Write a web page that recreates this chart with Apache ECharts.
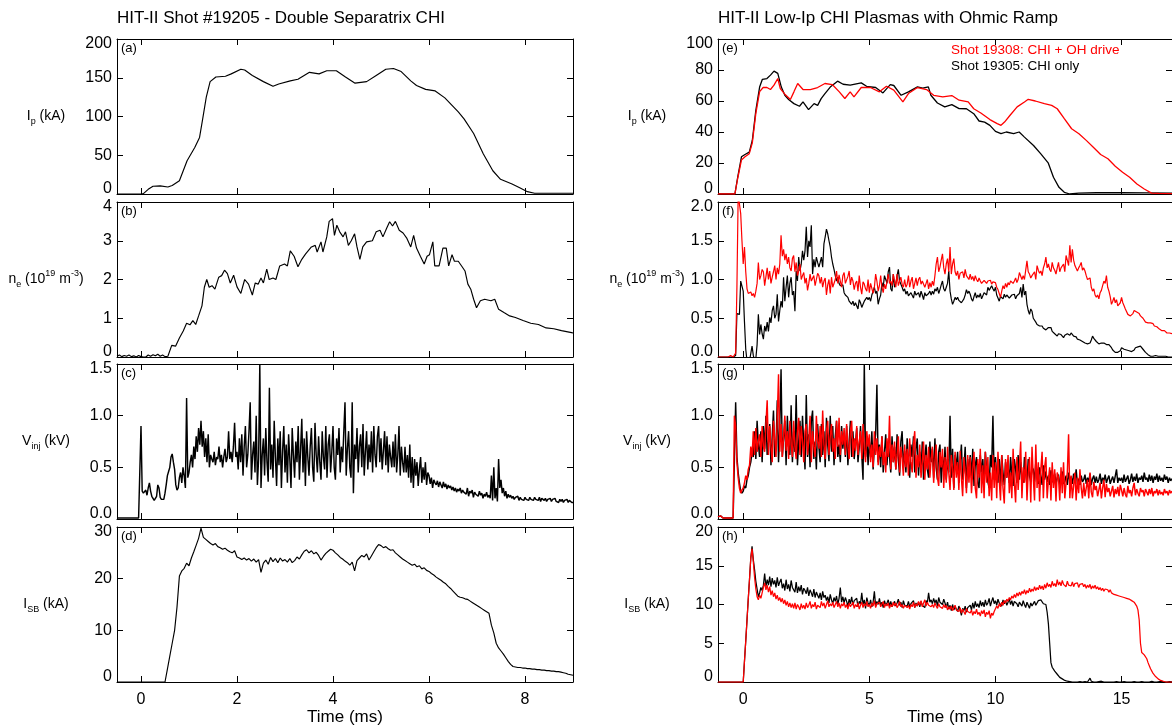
<!DOCTYPE html>
<html><head><meta charset="utf-8">
<script src="https://cdn.jsdelivr.net/npm/echarts@6/dist/echarts.min.js"></script>
<style>html,body{margin:0;padding:0;background:#fff}#c{width:1172px;height:728px}</style>
</head><body><div id="c"></div>
<script>
// ---------------- DATA ----------------
// Left column: shot 19205, time in ms
const ipLeft = [[-0.5,0],[0,0],[0.05,0.5],[0.15,6],[0.25,10],[0.4,10.5],[0.56,9],[0.65,11],[0.8,17],[0.96,43],[1.12,60],[1.22,73],[1.28,95],[1.36,125],[1.44,145],[1.56,151],[1.76,152],[1.88,155],[2.08,161],[2.16,160],[2.32,153],[2.55,145],[2.75,139],[2.87,142],[3.11,146],[3.27,148],[3.51,157],[3.71,155],[3.87,159],[4.07,159],[4.26,151],[4.46,143],[4.7,145],[4.9,153],[5.1,161],[5.26,162],[5.42,158],[5.62,146],[5.74,140],[5.93,135],[6.13,133],[6.33,124],[6.61,106],[6.73,97],[6.93,78],[7.13,52],[7.33,30],[7.49,19],[7.73,13],[7.89,8],[8.05,3],[8.2,1],[8.6,1],[9,1]];
const neLeft = [[-0.5,0.02],[-0.45,0.05],[-0.4,0.01],[-0.35,0.04],[-0.3,0.02],[-0.25,0.05],[-0.2,0.01],[-0.15,0.03],[-0.1,0.0],[-0.05,0.04],[0,0.01],[0.05,0.0],[0.1,0.0],[0.15,0.05],[0.2,0.02],[0.25,0.06],[0.3,0.03],[0.35,0.07],[0.4,0.02],[0.45,0.05],[0.5,0.01],[0.56,0.02],[0.64,0.3],[0.72,0.28],[0.8,0.49],[0.88,0.67],[0.95,0.87],[1.02,0.83],[1.08,0.94],[1.14,0.84],[1.2,1.06],[1.27,1.32],[1.32,1.8],[1.37,2.0],[1.42,1.8],[1.48,1.84],[1.54,1.75],[1.62,2.06],[1.68,2.1],[1.74,2.24],[1.8,2.15],[1.86,1.91],[1.93,2.11],[2.0,1.81],[2.08,1.64],[2.16,2.0],[2.24,1.88],[2.32,1.6],[2.38,1.91],[2.44,1.88],[2.5,2.04],[2.55,1.91],[2.62,2.27],[2.67,2.0],[2.75,2.04],[2.81,2.0],[2.89,2.35],[2.99,2.4],[3.05,2.35],[3.11,2.74],[3.19,2.6],[3.27,2.33],[3.35,2.52],[3.43,2.66],[3.55,2.84],[3.63,2.88],[3.67,2.71],[3.75,2.97],[3.79,2.71],[3.87,3.1],[3.92,3.5],[3.99,3.57],[4.03,3.14],[4.08,3.4],[4.14,3.23],[4.21,3.1],[4.26,3.23],[4.32,2.88],[4.38,3.0],[4.45,3.18],[4.5,2.84],[4.56,2.52],[4.62,2.84],[4.7,2.97],[4.82,3.0],[4.9,3.23],[4.98,3.27],[5.04,3.1],[5.12,3.33],[5.18,3.49],[5.24,3.38],[5.3,3.5],[5.38,3.27],[5.46,3.2],[5.54,3.06],[5.62,2.84],[5.68,3.14],[5.74,2.81],[5.82,2.6],[5.9,2.4],[5.96,2.6],[6.01,2.64],[6.08,2.97],[6.12,2.35],[6.21,2.35],[6.29,2.81],[6.36,2.81],[6.41,2.35],[6.48,2.64],[6.53,2.47],[6.61,2.47],[6.69,2.33],[6.75,2.22],[6.81,1.88],[6.87,1.75],[6.93,1.49],[6.99,1.27],[7.07,1.45],[7.16,1.49],[7.29,1.45],[7.37,1.49],[7.45,1.23],[7.57,1.14],[7.68,1.06],[7.8,1.02],[7.96,0.94],[8.12,0.87],[8.28,0.84],[8.44,0.75],[8.6,0.73],[8.76,0.68],[8.97,0.63],[9.0,0.62]];
// V_inj, sampled every 0.025 ms from -0.5 ms
const vinjLeftT0 = -0.5, vinjLeftDt = 0.025;
const vinjLeft = [0.01,0.01,0.01,0.01,0.01,0.01,0.01,0.01,0.01,0.01,
0.01,0.01,0.01,0.01,0.01,0.01,0.01,0.01,0.01,0.01,
0.9,0.27,0.25,0.24,0.28,0.23,0.3,0.35,0.27,0.22,
0.2,0.18,0.2,0.22,0.33,0.3,0.21,0.19,0.2,0.19,
0.25,0.33,0.42,0.46,0.5,0.6,0.63,0.55,0.48,0.33,
0.28,0.3,0.4,0.45,0.35,0.5,0.42,0.3,1.17,0.4,
0.45,0.55,0.62,0.5,0.7,0.58,0.8,0.65,0.88,0.72,
0.95,0.7,0.85,0.6,0.78,0.55,0.82,0.5,0.62,0.58,
0.55,0.65,0.52,0.6,0.58,0.7,0.55,0.62,0.5,0.6,
0.68,0.55,0.6,0.85,0.58,0.65,0.55,0.7,0.93,0.6,
0.65,0.48,0.78,0.55,0.82,0.42,0.7,0.9,0.5,0.62,
0.85,1.13,0.38,0.62,0.75,0.45,1.0,0.33,0.58,1.5,
0.3,0.62,0.78,0.42,0.88,0.55,0.36,1.27,0.48,0.72,
0.4,0.95,0.6,0.32,0.78,0.52,0.85,0.3,0.66,0.9,
0.45,0.72,0.35,0.82,0.58,0.3,0.88,0.62,0.4,0.75,
0.55,0.9,0.38,0.68,0.97,0.45,0.78,0.32,0.85,0.6,
0.42,0.7,0.88,0.5,0.36,0.93,0.62,0.45,0.8,0.55,
0.38,0.85,0.6,0.48,0.9,0.4,0.72,0.82,0.45,0.65,
0.9,0.5,0.38,0.78,0.62,0.88,0.45,0.7,0.55,0.85,
1.13,0.42,0.68,0.85,0.5,0.4,1.13,0.25,0.72,0.58,
0.88,0.45,0.7,0.82,0.5,0.92,0.42,0.65,0.85,0.48,
0.72,0.55,0.85,0.45,0.9,0.62,0.5,0.8,0.9,0.55,
0.78,0.48,0.66,0.85,0.52,0.8,0.45,0.72,0.6,0.5,
0.75,0.5,0.82,0.45,0.62,0.9,0.42,0.7,0.55,0.45,
0.7,0.45,0.62,0.4,0.72,0.35,0.6,0.3,0.58,0.42,
0.55,0.32,0.48,0.6,0.35,0.5,0.38,0.55,0.33,0.45,
0.42,0.34,0.4,0.3,0.38,0.35,0.33,0.37,0.31,0.36,
0.33,0.3,0.36,0.31,0.34,0.29,0.33,0.3,0.32,0.28,
0.31,0.27,0.3,0.26,0.29,0.27,0.3,0.25,0.28,0.26,
0.27,0.24,0.3,0.22,0.27,0.25,0.28,0.21,0.26,0.24,
0.25,0.22,0.27,0.23,0.25,0.2,0.24,0.22,0.26,0.21,
0.23,0.2,0.42,0.18,0.5,0.2,0.3,0.17,0.58,0.3,
0.38,0.25,0.3,0.22,0.27,0.2,0.24,0.21,0.23,0.2,
0.22,0.19,0.21,0.2,0.22,0.18,0.21,0.19,0.2,0.18,
0.21,0.19,0.2,0.18,0.21,0.19,0.2,0.18,0.21,0.19,
0.2,0.18,0.21,0.17,0.2,0.19,0.18,0.2,0.17,0.19,
0.18,0.2,0.17,0.19,0.18,0.2,0.17,0.18,0.16,0.19,
0.17,0.19,0.16,0.18,0.17,0.19,0.16,0.18,0.17,0.16,
0.16];
// I_SB, sampled every 0.05 ms from -0.5 ms
const isbLeftT0 = -0.5, isbLeftDt = 0.05;
const isbLeft = [0,0,0,0,0,0,0,0,0,0,
0,0,0,0,0,0,0,0,0,0,
0,2.5,5,7.5,10,14.5,20.5,21.5,22,23,
22.5,24,25.2,26.5,27.8,29.8,28,27.6,27.2,26.8,
26.5,26.8,26.2,26,25.7,25.9,25.5,25.2,25,25.4,
24.2,24,23.7,24,23.6,23.9,23.4,23.8,23.2,23.7,
21.2,23,23.6,22.8,24.1,23.3,23.9,23.1,24,23.4,
23.7,23.2,23.9,23.1,23.5,24.2,23.8,24.6,25.3,25.6,
25,25.4,24.8,25.1,24.5,23.6,24.3,24.9,25.3,25.7,
25.5,25,24.6,24.1,23.8,23.4,23.1,22.6,23.2,21.5,
23.5,24,24.5,24.2,24.8,23.6,24.4,25.2,26,26.6,
26.4,26,26.2,25.8,25.5,25.6,25,24.6,24.2,23.8,
23.5,23.2,22.9,22.6,22.8,22.3,22.5,21.9,22.1,21.6,
21.4,21,20.7,20.3,20,19.7,19.3,19,18.5,18.1,
17.6,17.1,16.6,16.4,16.3,16.1,16,15.7,15.4,15.1,
14.8,14.5,14.2,13.9,13.6,13.3,11,9.5,7.5,6.6,
6,5.4,4.7,4,3.4,3,2.9,2.8,2.8,2.7,
2.7,2.6,2.6,2.5,2.5,2.4,2.4,2.3,2.3,2.2,
2.2,2.1,2.1,2.0,2.0,1.9,1.8,1.7,1.5,1.4,
1.3];

// Right column: shot 19305 (black, CHI only) and 19308 (red, CHI + OH)
const ipBlack = [[-1,0],[-0.33,0],[-0.22,10.8],[-0.07,24],[0.07,25.5],[0.24,27],[0.36,34.5],[0.5,54],[0.65,69],[0.76,74],[0.94,74.5],[1.08,76.7],[1.22,79.3],[1.37,77.8],[1.51,69],[1.65,63.7],[1.8,61],[2.01,58.3],[2.23,56.6],[2.37,59.4],[2.59,54.4],[2.81,58.3],[2.95,57.2],[3.09,61.5],[3.24,64.8],[3.45,69],[3.74,72.8],[3.96,70.8],[4.24,70.2],[4.68,71.7],[4.89,69.5],[5.25,68.7],[5.54,65.2],[5.83,70.6],[5.97,70],[6.26,63.7],[6.55,65.9],[6.91,69.1],[7.12,68.3],[7.34,69.1],[7.44,63.7],[7.7,58.7],[7.99,56.2],[8.27,57.7],[8.56,55.1],[8.85,55],[9.14,51.8],[9.35,47.1],[9.57,46.4],[9.78,44.3],[10.0,40.4],[10.22,38.9],[10.43,40],[10.72,38.9],[10.94,40],[11.15,36.7],[11.51,31.3],[11.8,25.9],[12.09,20.1],[12.3,10.8],[12.52,4.3],[12.73,1.1],[12.95,0],[13.3,0.6],[14,0.8],[15,0.8],[16,0.7],[17,0.5]];
const ipRed = [[-1,0],[-0.33,0],[-0.22,10],[-0.07,22],[0.07,24],[0.24,26],[0.36,33],[0.5,52],[0.65,66],[0.79,68.7],[0.94,68.7],[1.08,67.4],[1.22,70.2],[1.37,74.5],[1.47,68],[1.65,64.4],[1.87,61],[2.01,65.9],[2.16,71.3],[2.37,67.4],[2.66,67.4],[2.95,68.7],[3.24,71.3],[3.53,70.6],[3.81,65.9],[4.03,61.6],[4.24,65.9],[4.39,62.6],[4.68,68.7],[5.04,68.7],[5.4,65.9],[5.68,69.5],[5.97,67],[6.33,59.4],[6.55,64.8],[6.91,68.7],[7.27,67.4],[7.55,63.7],[7.91,62.6],[8.27,63.5],[8.56,60.5],[8.92,59.4],[9.14,55],[9.42,52.3],[9.78,48],[10.07,45.4],[10.22,44.3],[10.36,46.4],[10.58,50.8],[10.86,56.2],[11.15,59.4],[11.3,61.1],[11.58,60],[11.94,58.3],[12.23,57.2],[12.45,55],[12.73,48.6],[13.02,42.1],[13.31,38.9],[13.6,34.6],[13.88,30.2],[14.17,25.5],[14.46,22.7],[14.75,17.9],[15.04,14],[15.32,10.8],[15.61,6.5],[15.9,3.2],[16.19,0.6],[16.47,0.4],[17,0.3]];
// Right column sampled traces: every 0.05 ms from -1 ms
const rightT0 = -1, rightDt = 0.05;
const neRed = [0,0,0,0,0,0,0,0,0,0,
0.02,0.01,0,0,0.05,0.9,2.1,2.1,1.85,1.5,
1.2,1.42,1.1,0.88,0.82,0.8,0.84,0.79,0.82,0.77,
0.85,0.95,1.22,1.0,1.05,1.13,1.1,0.92,0.9,1.15,
1.0,1.11,0.95,1.03,1.1,1.18,1.0,1.15,1.07,1.2,
1.57,1.3,1.39,1.25,1.33,1.2,1.29,1.15,1.11,1.27,
1.31,1.1,1.22,1.05,1.11,1.2,1.0,1.05,1.09,0.95,
1.02,0.86,0.95,1.07,0.98,1.0,1.05,0.92,1.0,1.08,
1.05,0.95,1.03,0.9,0.98,1.02,0.8,0.93,1.0,0.82,
1.03,0.9,0.92,1.0,1.11,0.95,1.06,0.98,0.9,1.05,
1.09,0.95,0.96,1.04,1.11,0.93,1.03,0.98,0.87,0.95,
0.98,0.85,1.05,0.9,0.81,0.97,0.94,0.88,0.85,1.0,
0.83,0.95,0.94,0.82,0.9,1.07,0.98,0.85,0.92,1.05,
0.9,0.83,0.94,0.88,0.9,1.07,0.95,0.98,0.92,1.07,
0.98,0.9,1.07,0.92,0.98,1.03,0.94,0.9,1.0,0.9,
0.94,1.05,0.9,0.98,1.03,0.88,0.95,1.02,0.92,1.0,
1.03,0.94,0.98,1.0,0.9,0.95,1.0,0.88,0.96,0.9,
0.98,0.92,1.05,1.2,1.29,1.1,1.16,1.25,1.33,1.15,
1.07,1.2,1.27,1.1,1.42,1.07,1.2,1.27,1.1,1.05,
1.11,1.0,1.08,1.07,1.1,1.02,1.13,1.05,1.07,1.0,
1.07,1.0,1.04,0.98,1.05,1.0,0.97,1.02,0.98,0.95,
0.96,0.99,0.97,0.95,0.98,0.96,0.99,0.94,0.97,0.96,
0.96,0.9,0.87,0.82,0.77,0.85,0.92,0.88,0.95,0.9,
0.96,0.93,0.98,1.0,0.95,0.98,1.02,0.96,1.0,1.09,
1.09,1.0,1.05,1.0,1.12,1.24,1.1,1.07,1.02,1.05,
1.03,1.1,1.0,1.18,1.12,1.08,1.11,1.05,1.15,1.2,
1.29,1.15,1.2,1.13,1.1,1.22,1.15,1.12,1.07,1.15,
1.22,1.1,1.15,1.13,1.2,1.1,1.31,1.25,1.18,1.44,
1.22,1.39,1.25,1.18,1.2,1.11,1.15,1.18,1.22,1.12,
1.15,1.11,1.05,1.0,0.98,1.02,0.9,0.85,0.88,0.8,
0.77,0.8,0.75,0.83,0.86,0.92,0.98,0.95,1.05,0.9,
0.85,0.78,0.68,0.72,0.77,0.7,0.74,0.66,0.64,0.7,
0.77,0.7,0.66,0.62,0.6,0.55,0.57,0.53,0.54,0.56,
0.6,0.61,0.58,0.59,0.56,0.53,0.55,0.5,0.48,0.45,
0.46,0.44,0.43,0.44,0.42,0.43,0.4,0.38,0.39,0.37,
0.36,0.35,0.34,0.33,0.34,0.32,0.31,0.32,0.31,0.3,
0.3];
const neBlack = [0,0,0,0,0,0,0,0,0,0,
0,0,0,0,0.02,0.56,0.55,0.55,0.98,0.98,
0.85,0.45,0.1,-0.05,-0.05,-0.05,-0.05,0.14,0.02,-0.05,
-0.02,0.16,0.55,0.29,0.42,0.3,0.23,0.4,0.33,0.45,
0.33,0.51,0.44,0.6,0.66,0.5,0.55,0.81,0.46,0.6,
0.72,0.64,1.03,0.72,0.9,1.05,0.77,0.95,1.03,0.8,
0.85,0.59,1.11,0.98,1.29,1.11,1.2,1.37,1.25,1.37,
1.68,1.29,1.5,1.42,1.7,1.07,1.26,1.16,1.29,1.22,
1.16,1.22,1.29,1.16,1.46,1.55,1.65,1.59,1.5,1.42,
1.29,1.2,1.13,1.05,0.98,1.03,0.95,0.92,0.9,0.93,
0.83,0.8,0.78,0.77,0.72,0.7,0.68,0.72,0.66,0.7,
0.68,0.62,0.74,0.7,0.64,0.68,0.72,0.7,0.77,0.74,
0.77,0.72,0.8,0.85,0.9,0.82,0.85,0.68,0.75,0.8,
0.96,0.9,1.05,1.07,0.95,1.1,1.16,0.88,0.85,1.07,
0.9,0.95,1.05,1.13,0.98,1.0,0.9,0.85,0.88,0.81,
0.85,0.79,0.77,0.83,0.81,0.76,0.85,0.8,0.79,0.83,
0.77,0.85,0.8,0.74,0.83,0.79,0.77,0.82,0.85,0.8,
0.85,0.81,0.88,0.85,0.9,0.82,0.87,0.93,0.98,0.88,
0.85,0.9,0.95,1.11,0.85,0.75,0.68,0.72,0.77,0.74,
0.77,0.73,0.74,0.7,0.68,0.75,0.8,0.87,0.82,0.85,
0.81,0.75,0.72,0.78,0.83,0.76,0.8,0.77,0.82,0.75,
0.77,0.83,0.85,0.8,0.9,0.86,0.85,0.92,0.88,0.85,
0.9,0.8,0.76,0.72,0.78,0.79,0.75,0.81,0.77,0.8,
0.81,0.76,0.74,0.8,0.78,0.81,0.75,0.79,0.77,0.82,
0.9,0.77,0.94,0.8,0.85,0.68,0.6,0.55,0.62,0.59,
0.5,0.48,0.45,0.42,0.44,0.4,0.38,0.4,0.37,0.36,
0.35,0.37,0.38,0.36,0.38,0.33,0.35,0.3,0.29,0.27,
0.3,0.31,0.29,0.27,0.25,0.28,0.29,0.3,0.31,0.28,
0.31,0.29,0.27,0.25,0.26,0.23,0.24,0.22,0.21,0.2,
0.19,0.18,0.19,0.17,0.16,0.18,0.22,0.27,0.24,0.22,
0.2,0.18,0.17,0.16,0.18,0.17,0.18,0.17,0.16,0.15,
0.16,0.15,0.12,0.09,0.07,0.06,0.05,0.06,0.05,0.08,
0.12,0.11,0.1,0.1,0.09,0.08,0.08,0.07,0.07,0.07,
0.09,0.12,0.12,0.13,0.14,0.14,0.12,0.1,0.08,0.06,
0.04,0.03,0.02,0.01,0.01,0.01,0.01,0.02,0.01,0.01,
0.01,0.01,0.0,0.01,0.0,0.01,0.0,0.0,0.01,0.0,
0];
const vinjBlack = [0.02,0.03,0.03,0.02,0.01,0.01,0.01,0.01,0.01,0.01,
0.01,0.01,0.01,0.01,1.13,0.6,0.45,0.35,0.27,0.25,
0.27,0.32,0.3,0.38,0.42,0.5,0.55,0.65,0.6,0.85,
0.58,0.95,0.72,0.6,0.85,0.55,0.9,0.68,1.0,0.62,
0.75,0.92,0.52,0.8,1.05,0.6,0.7,1.15,0.55,0.9,
1.45,0.6,0.78,0.95,0.52,1.0,0.7,0.62,1.1,0.55,
0.85,0.65,1.2,0.52,0.75,0.95,0.6,1.0,0.72,0.48,
1.2,0.6,0.82,0.5,0.95,1.05,0.58,0.75,0.48,0.92,
0.7,0.55,0.92,0.62,0.85,0.5,0.98,0.72,0.56,1.0,
0.65,0.9,0.52,0.8,0.95,0.6,0.72,0.55,0.9,0.68,
0.82,0.6,0.9,0.52,0.75,0.95,0.6,0.85,0.58,0.72,
0.88,0.55,0.7,0.9,0.62,0.38,1.5,0.6,0.8,0.52,
0.75,0.6,0.85,0.48,0.7,0.82,1.3,0.55,0.72,0.5,
0.8,0.45,0.65,0.82,0.52,0.75,0.6,0.45,0.8,0.55,
0.7,0.48,0.82,0.58,0.42,0.75,0.85,0.5,0.66,0.45,
0.78,0.55,0.4,0.72,0.6,0.8,0.45,0.68,0.78,0.42,
0.65,0.45,0.75,0.38,0.6,0.72,0.48,0.4,0.75,0.55,
0.68,0.4,0.78,0.5,0.38,0.65,0.72,0.35,0.6,0.45,
0.7,0.38,0.58,0.45,1.0,0.4,0.68,0.3,0.62,0.5,
0.65,0.35,0.55,0.72,0.38,0.48,0.7,0.3,0.58,0.45,
0.62,0.4,0.68,0.32,0.52,0.6,0.35,0.3,0.62,0.45,
0.58,0.32,0.65,0.48,0.36,0.3,0.62,0.5,1.0,0.38,
0.6,0.42,0.35,0.58,0.32,0.62,0.45,0.33,0.55,0.4,
0.52,0.35,0.6,0.42,0.32,0.58,0.48,0.35,0.62,0.38,
0.55,0.4,0.35,0.6,0.45,0.33,0.58,0.42,0.36,0.5,
0.48,0.36,0.55,0.4,0.34,0.5,0.42,0.33,0.52,0.38,
0.46,0.36,0.42,0.33,0.47,0.38,0.35,0.44,0.34,0.4,
0.43,0.33,0.38,0.46,0.34,0.36,0.42,0.33,0.45,0.37,
0.41,0.34,0.44,0.36,0.48,0.34,0.39,0.33,0.42,0.36,
0.38,0.43,0.34,0.4,0.36,0.44,0.33,0.39,0.42,0.35,
0.41,0.35,0.38,0.44,0.34,0.4,0.37,0.43,0.35,0.39,
0.42,0.34,0.38,0.41,0.35,0.36,0.48,0.35,0.4,0.37,
0.4,0.35,0.43,0.36,0.39,0.42,0.34,0.38,0.44,0.36,
0.41,0.37,0.44,0.35,0.4,0.38,0.42,0.36,0.45,0.38,
0.4,0.36,0.43,0.37,0.42,0.35,0.41,0.38,0.44,0.36,
0.42,0.37,0.4,0.36,0.43,0.38,0.41,0.35,0.4,0.37,
0.39];
const vinjRed = [0.02,0.03,0.03,0.02,0.01,0.01,0.01,0.01,0.01,0.01,
0.01,0.01,0.01,1.0,0.9,0.55,0.4,0.3,0.25,0.28,
0.3,0.35,0.42,0.38,0.48,0.52,0.7,0.6,0.85,0.62,
0.88,0.65,0.75,0.82,0.6,0.9,0.7,0.65,0.92,1.15,
0.62,0.9,0.7,0.55,0.95,0.78,0.6,0.98,1.4,0.65,
0.92,0.6,0.8,1.0,0.66,0.85,0.58,0.95,0.72,0.6,
0.95,0.7,0.58,0.85,0.98,0.62,0.9,0.75,0.55,0.85,
0.92,0.62,0.78,1.0,0.55,0.85,0.7,0.6,1.0,0.75,
0.68,0.9,0.6,1.05,0.72,0.58,0.85,0.95,0.62,0.8,
0.92,0.65,0.78,0.58,0.95,0.7,0.98,0.62,0.85,0.72,
0.88,0.62,0.92,0.7,0.58,0.85,0.95,0.6,0.78,0.66,
0.9,0.62,0.75,0.85,0.58,0.92,0.68,0.55,0.85,0.7,
0.82,0.55,0.72,0.5,0.85,0.62,0.78,0.52,0.7,0.6,
0.8,0.52,0.65,0.45,0.78,0.6,1.0,0.48,0.72,0.55,
0.75,0.48,0.62,0.8,0.45,0.7,0.58,0.42,0.72,0.5,
0.68,0.42,0.78,0.55,0.45,0.72,0.85,0.4,0.62,0.5,
0.72,0.4,0.55,0.75,0.38,0.62,0.48,0.7,0.4,0.58,
0.7,0.35,0.55,0.72,0.4,0.32,0.65,0.5,0.68,0.3,
0.6,0.35,0.7,0.45,0.28,0.62,0.5,0.28,0.65,0.4,
0.55,0.28,0.66,0.4,0.22,0.6,0.45,0.25,0.62,0.35,
0.6,0.25,0.48,0.65,0.3,0.2,0.58,0.4,0.68,0.25,
0.52,0.2,0.65,0.35,0.6,0.22,0.45,0.18,0.62,0.3,
0.55,0.2,0.65,0.38,0.18,0.62,0.3,0.15,0.58,0.4,
0.62,0.25,0.45,0.2,0.68,0.35,0.16,0.6,0.28,0.5,
0.75,0.2,0.5,0.35,0.65,0.18,0.45,0.6,0.16,0.7,
0.4,0.18,0.72,0.3,0.55,0.17,0.48,0.65,0.2,0.5,
0.6,0.2,0.38,0.5,0.18,0.55,0.3,0.48,0.17,0.45,
0.4,0.18,0.5,0.25,0.55,0.2,0.35,0.45,0.82,0.2,
0.42,0.2,0.32,0.45,0.18,0.4,0.25,0.48,0.3,0.2,
0.35,0.22,0.3,0.38,0.2,0.45,0.26,0.21,0.36,0.28,
0.32,0.22,0.28,0.35,0.2,0.3,0.38,0.21,0.34,0.26,
0.3,0.22,0.27,0.32,0.21,0.29,0.24,0.31,0.22,0.33,
0.28,0.22,0.3,0.24,0.21,0.32,0.25,0.28,0.22,0.3,
0.35,0.23,0.29,0.25,0.22,0.3,0.26,0.28,0.22,0.29,
0.26,0.23,0.29,0.24,0.3,0.22,0.27,0.25,0.29,0.23,
0.28,0.24,0.26,0.23,0.29,0.25,0.27,0.23,0.28,0.25,
0.27];
const isbBlack = [0,0,0,0,0,0,0,0,0,0,
0,0,0,0,0,0,0,0,0,0,
0,2.7,5.3,8,10.7,13.3,16,17.5,15.8,14.5,
13,12,11,11.5,12.2,11.8,12.5,14,12.3,13.2,
12.5,13.6,12.3,13.4,12.6,13.1,12.2,13.5,12.4,12.9,
13.3,12.1,12.7,11.8,13.2,12,12.6,11.7,13.1,12.2,
12.4,11.6,12.9,11.5,12.3,11.7,12.5,11.3,12.1,11.8,
11.4,12.2,11.1,11.9,11.5,11,12,10.9,11.6,11.2,
10.8,11.5,10.6,11.7,10.9,11.2,10.5,11,10.2,11.3,
10.6,10.1,10.9,10.4,11.1,10,10.8,12.2,10.3,11,
10.2,10.9,10.4,9.8,10.7,10.1,11,9.9,10.5,10.3,
10.8,9.7,10.4,10.1,11.5,10,10.6,9.5,10.9,10.2,
9.9,10.6,9.7,10.3,11.7,9.8,10.4,10,10.8,9.9,
10.3,9.6,10.5,9.9,10.2,10.6,9.8,10.4,9.7,10.1,
10.4,9.8,10.2,10.7,9.9,10.3,9.6,10.5,9.9,10.1,
9.8,10.4,9.7,10.1,9.9,10.5,9.6,10.2,9.8,10.3,
9.7,10.4,9.9,10.1,9.6,10.5,10.2,11.5,10.3,10.6,
10.1,10.8,10.2,10.6,9.8,10.9,10.3,10.4,10,10.7,
10.2,9.6,10.3,9.4,9.9,9.2,10,9.3,9.7,9.5,
9.1,9.8,9.3,8.6,9.5,9.2,9.8,9,9.6,9.4,
9.9,9.3,10.2,9.5,10.4,9.7,10.1,9.6,10.5,9.8,
10.3,9.7,10.6,9.9,10.2,10.8,9.8,10.4,10.9,10.1,
10.5,9.9,10.7,10.2,10.4,9.8,10.6,10.1,10.5,9.9,
10.3,10.7,10,10.5,9.8,10.4,10.6,10.1,9.7,10.3,
10.2,9.8,10.5,10,9.6,10.3,9.9,9.5,10.2,9.8,
10,10.4,9.9,10.2,10.5,10.3,10.6,10.4,10.1,10.2,
10,9,7.5,5,2.5,1.9,1.7,1.4,1.2,1.0,
0.8,0.6,0.5,0.4,0.3,0.2,0.2,0.1,0.1,0.05,
0,0,0.05,0,0.1,0,0,0.05,0,0,
0,0.05,0,0,0.1,0.5,0.1,0,0,0.05,
0,0,0.05,0,0.1,0,0,0.05,0,0,
0,0.05,0,0.1,0,0,0.05,0,0,0.1,
0,0,0.05,0,0,0.1,0,0.05,0,0,
0.05,0,0,0.1,0,0,0.05,0,0,0,
0,0.05,0,0,0.1,0,0,0.05,0,0,
0.05,0,0.1,0,0,0.05,0,0,0.05,0,
0];
const isbRed = [0,0,0,0,0,0,0,0,0,0,
0,0,0,0,0,0,0,0,0,0,
0,2.7,5.3,8,10.7,13.3,16,17.2,15.5,13.5,
12,11,10.6,11.2,10.8,11.5,12.2,12.8,11.9,12.5,
11.6,12.3,11.2,11.8,11,11.5,10.7,11.2,10.5,10.9,
10.3,10.8,10.1,10.6,9.9,10.4,9.7,10.2,9.6,10.1,
9.5,10.2,9.4,10,9.7,9.3,10.1,9.5,9.9,9.4,
10.2,9.6,9.9,10.4,9.5,10,9.7,10.3,9.4,9.9,
10.1,9.6,10.4,9.8,10.2,9.5,10,10.5,9.7,10.1,
9.8,10.3,9.6,10,10.4,9.7,10.2,9.5,10.1,9.8,
10.3,9.6,10,9.4,10.2,9.7,9.9,10.3,9.5,10,
9.7,10.2,9.4,9.9,10.3,9.6,10.1,9.8,10.4,9.7,
10,9.5,10.2,9.8,10.5,9.6,10.1,9.9,10.3,9.7,
9.9,10.4,9.6,10.1,9.8,10.2,9.5,10,9.7,10.3,
9.8,10.2,9.6,9.9,10.4,9.7,10,9.5,9.9,10.1,
9.6,9.9,9.4,10,9.7,10.3,9.6,10.1,9.8,10.4,
9.9,10.5,9.7,10.2,10.6,9.8,10.3,9.9,10.1,9.7,
10,9.6,10.2,9.8,9.5,10.1,9.7,9.9,9.5,10,
9.6,9.9,9.3,9.7,9.4,9.8,9.2,9.6,9.9,9.3,
9.5,9.1,9.6,8.9,9.4,9.2,8.7,9.5,9.1,9.3,
8.9,9.3,8.6,9.1,8.8,9.4,8.7,9,8.5,9.2,
8.8,9.3,8.4,9,8.7,9.2,8.2,8.9,8.6,9.1,
9.3,9.8,9.5,10.1,9.7,10.3,9.9,10.5,10.2,10.7,
10.4,10.9,10.6,11.1,10.8,11.3,10.9,11.5,11.1,11.6,
11.2,11.7,11.4,11.9,11.3,11.8,11.5,12.1,11.6,12,
11.7,12.3,11.8,12.2,11.9,12.5,12,12.4,11.9,12.6,
12.1,12.8,12.3,12.6,12.2,13,12.4,12.7,12.3,13.2,
12.5,12.9,12.4,13.1,12.6,12.8,12.3,13,12.5,12.7,
12.4,12.9,12.3,12.7,12.5,12.8,12.2,12.6,12.4,12.7,
12.3,12.6,12.1,12.5,12.2,12.6,12,12.4,12.1,12.5,
12,12.3,11.9,12.2,11.8,12.1,11.7,12,11.8,11.9,
11.6,11.9,11.5,11.7,11.3,11.5,11.2,11.3,11.1,11.2,
11,11.1,10.9,11,10.8,10.8,10.7,10.6,10.5,10.3,
10.3,10.1,9.8,9.3,8,5,3.8,3.6,3.5,3.3,
3.0,2.5,2.1,1.7,1.4,1.1,0.9,0.7,0.5,0.4,
0.3,0.2,0.15,0.1,0.05,0,0,0,0,0,
0];

// tick values and labels
const leftTicks = [0, 2, 4, 6, 8];
const rightTicks = [0, 5, 10, 15];
const titles = ['HIT-II Shot #19205 - Double Separatrix CHI', 'HIT-II Low-Ip CHI Plasmas with Ohmic Ramp'];
const legendNames = ['Shot 19308: CHI + OH drive', 'Shot 19305: CHI only'];

// ---------------- LAYOUT ----------------
const FONT = '"Liberation Sans", Arial, Helvetica, sans-serif';
function uni(t0, dt, vals) { return vals.map((v, i) => [Math.round((t0 + i * dt) * 1000) / 1000, v]); }
const COLS = [
  { left: 117, width: 456, min: -0.5, max: 9, ticks: leftTicks },
  { left: 718, width: 456, min: -1, max: 17, ticks: rightTicks }
];
const TOPS = [39, 202, 364, 527], H = 155;
const RED = '#ff0000', BLK = '#000000';
const YN = {
  ip: '{n|I}{s|p}{n| (kA)}',
  ne: '{n|n}{s|e}{n| (10}{p|19}{n| m}{p|-3}{n|)}',
  vinj: '{n|V}{s|inj}{n| (kV)}',
  isb: '{n|I}{s|SB}{n| (kA)}'
};
const panels = [
  { c: 0, r: 0, y: [0, 200, 50, 0], tag: '(a)', yn: YN.ip, w: 1.15, lines: [[ipLeft, BLK]] },
  { c: 0, r: 1, y: [0, 4, 1, 0], tag: '(b)', yn: YN.ne, w: 1.15, lines: [[neLeft, BLK]] },
  { c: 0, r: 2, y: [0, 1.5, 0.5, 1], tag: '(c)', yn: YN.vinj, w: 1.45, lines: [[uni(vinjLeftT0, vinjLeftDt, vinjLeft), BLK]] },
  { c: 0, r: 3, y: [0, 30, 10, 0], tag: '(d)', yn: YN.isb, w: 1.15, lines: [[uni(isbLeftT0, isbLeftDt, isbLeft), BLK]] },
  { c: 1, r: 0, y: [0, 100, 20, 0], tag: '(e)', yn: YN.ip, w: 1.3, lines: [[ipBlack, BLK, legendNames[1]], [ipRed, RED, legendNames[0]]] },
  { c: 1, r: 1, y: [0, 2, 0.5, 1], tag: '(f)', yn: YN.ne, w: 1.2, lines: [[uni(rightT0, rightDt, neBlack), BLK, legendNames[1]], [uni(rightT0, rightDt, neRed), RED, legendNames[0]]] },
  { c: 1, r: 2, y: [0, 1.5, 0.5, 1], tag: '(g)', yn: YN.vinj, w: 1.45, lines: [[uni(rightT0, rightDt, vinjBlack), BLK, legendNames[1]], [uni(rightT0, rightDt, vinjRed), RED, legendNames[0]]] },
  { c: 1, r: 3, y: [0, 20, 5, 0], tag: '(h)', yn: YN.isb, w: 1.25, lines: [[uni(rightT0, rightDt, isbBlack), BLK, legendNames[1]], [uni(rightT0, rightDt, isbRed), RED, legendNames[0]]] }
];

const grid = [], xAxis = [], yAxis = [], series = [], graphic = [];
const axisLine = { show: true, onZero: false, lineStyle: { color: '#000', width: 1 } };
const tick = (vals) => ({ show: true, inside: true, length: 6, lineStyle: { color: '#000', width: 1 }, customValues: vals });
const richY = {
  n: { fontSize: 14, fontFamily: FONT, fill: '#000', color: '#000', lineHeight: 20, verticalAlign: 'middle' },
  s: { fontSize: 9, fontFamily: FONT, fill: '#000', color: '#000', lineHeight: 10, verticalAlign: 'bottom' },
  p: { fontSize: 9, fontFamily: FONT, fill: '#000', color: '#000', lineHeight: 10, verticalAlign: 'top' }
};

panels.forEach((p, i) => {
  const col = COLS[p.c];
  const top = TOPS[p.r];
  const bottomRow = p.r === 3;
  grid.push({ left: col.left, top: top, width: col.width, height: H, containLabel: false });
  xAxis.push({
    type: 'value', gridIndex: i, position: 'bottom', min: col.min, max: col.max,
    axisLine: axisLine, axisTick: tick(col.ticks), splitLine: { show: false },
    axisLabel: { show: bottomRow, customValues: col.ticks, fontSize: 16, fontFamily: FONT, color: '#000', margin: 10 },
    name: bottomRow ? 'Time (ms)' : '', nameLocation: 'middle', nameGap: 27,
    nameTextStyle: { fontSize: 17, fontFamily: FONT, color: '#000' }
  });
  xAxis.push({
    type: 'value', gridIndex: i, position: 'top', min: col.min, max: col.max,
    axisLine: axisLine, axisTick: tick(col.ticks), splitLine: { show: false }, axisLabel: { show: false }
  });
  const dec = p.y[3];
  yAxis.push({
    type: 'value', gridIndex: i, position: 'left', min: p.y[0], max: p.y[1], interval: p.y[2],
    axisLine: axisLine, axisTick: { show: true, inside: true, length: 6, lineStyle: { color: '#000' } },
    splitLine: { show: false },
    axisLabel: {
      fontSize: 16, fontFamily: FONT, color: '#000', margin: 5, lineHeight: 10,
      formatter: (v) => v.toFixed(dec), showMinLabel: true, showMaxLabel: true,
      verticalAlignMinLabel: 'bottom', verticalAlignMaxLabel: 'top'
    }
  });
  yAxis.push({
    type: 'value', gridIndex: i, position: 'right', min: p.y[0], max: p.y[1], interval: p.y[2],
    axisLine: axisLine, axisTick: { show: true, inside: true, length: 6, lineStyle: { color: '#000' } },
    splitLine: { show: false }, axisLabel: { show: false }
  });
  p.lines.forEach((ln) => {
    series.push({
      type: 'line', name: ln[2] || p.tag, xAxisIndex: 2 * i, yAxisIndex: 2 * i, data: ln[0],
      symbol: 'none', showSymbol: false, clip: true, silent: true, animation: false,
      lineStyle: { color: ln[1], width: p.w }, itemStyle: { color: ln[1] }
    });
  });
  graphic.push({ type: 'text', x: col.left + 4, y: top + 3, silent: true,
    style: { text: p.tag, font: '13px ' + FONT, fill: '#000', align: 'left', verticalAlign: 'top', textAlign: 'left', textVerticalAlign: 'top' } });
  graphic.push({ type: 'text', x: col.left - 71, y: top + H / 2, silent: true,
    style: { text: p.yn, rich: richY, font: '14px ' + FONT, fill: '#000', align: 'center', verticalAlign: 'middle', textAlign: 'center', textVerticalAlign: 'middle' } });
});

titles.forEach((t, k) => {
  graphic.push({ type: 'text', x: COLS[k].left, y: 18, silent: true,
    style: { text: t, font: '17px ' + FONT, fill: '#000', align: 'left', verticalAlign: 'middle', textAlign: 'left', textVerticalAlign: 'middle' } });
});
graphic.push({ type: 'text', x: 951, y: 50, silent: true,
  style: { text: legendNames[0], font: '13.5px ' + FONT, fill: RED, align: 'left', verticalAlign: 'middle', textAlign: 'left', textVerticalAlign: 'middle' } });
graphic.push({ type: 'text', x: 951, y: 66, silent: true,
  style: { text: legendNames[1], font: '13.5px ' + FONT, fill: BLK, align: 'left', verticalAlign: 'middle', textAlign: 'left', textVerticalAlign: 'middle' } });

const chart = echarts.init(document.getElementById('c'), null, { renderer: 'canvas', width: 1172, height: 728 });
chart.setOption({
  backgroundColor: '#ffffff', animation: false,
  textStyle: { fontFamily: FONT },
  grid, xAxis, yAxis, series, graphic
});
</script></body></html>
